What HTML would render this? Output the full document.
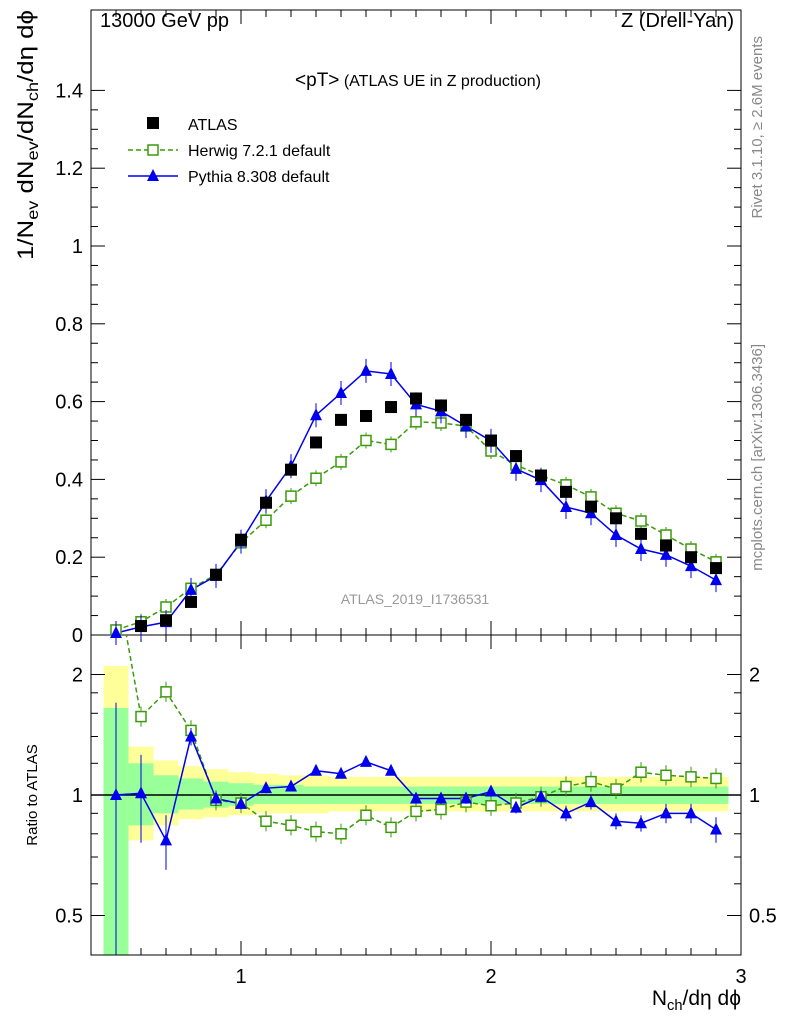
<!DOCTYPE html>
<html><head><meta charset="utf-8"><style>
body{margin:0;background:#fff}
svg{display:block;font-family:"Liberation Sans",sans-serif}
</style></head><body>
<svg id="c" width="786" height="1024" viewBox="0 0 786 1024"></svg>
<script>
const xs=[0.5,0.6,0.7,0.8,0.9,1.0,1.1,1.2,1.3,1.4,1.5,1.6,1.7,1.8,1.9,2.0,2.1,2.2,2.3,2.4,2.5,2.6,2.7,2.8,2.9];
const atlas=[0.01,0.023,0.038,0.085,0.155,0.245,0.34,0.425,0.495,0.553,0.563,0.586,0.608,0.59,0.553,0.50,0.46,0.41,0.368,0.33,0.30,0.26,0.23,0.20,0.172];
const herwig=[0.013,0.034,0.072,0.12,0.155,0.237,0.295,0.357,0.403,0.445,0.50,0.49,0.548,0.545,0.537,0.473,0.437,0.41,0.386,0.355,0.313,0.293,0.257,0.221,0.188];
const pythia=[0.005,0.021,0.033,0.116,0.152,0.24,0.344,0.434,0.565,0.622,0.679,0.671,0.593,0.575,0.537,0.499,0.427,0.398,0.329,0.313,0.257,0.221,0.206,0.177,0.141];
const herwigRatio=[3.5,1.57,1.81,1.45,0.97,0.955,0.86,0.84,0.81,0.80,0.89,0.83,0.91,0.92,0.96,0.94,0.955,0.99,1.05,1.08,1.035,1.14,1.12,1.11,1.10];
const pythiaRatio=[1.0,1.01,0.77,1.40,0.98,0.95,1.04,1.05,1.15,1.13,1.21,1.15,0.98,0.98,0.98,1.02,0.93,0.99,0.90,0.96,0.86,0.85,0.90,0.90,0.82];
const pythiaRatioErr=[0.7,0.25,0.12,0.07,0.04,0.03,0.03,0.03,0.03,0.03,0.03,0.03,0.03,0.03,0.03,0.03,0.03,0.03,0.04,0.04,0.04,0.04,0.05,0.05,0.06];
const greenLo=[0.37,0.84,0.9,0.92,0.93,0.94,0.95,0.95,0.95,0.95,0.95,0.95,0.95,0.95,0.95,0.95,0.95,0.95,0.95,0.95,0.95,0.95,0.95,0.95,0.95];
const greenHi=[1.65,1.2,1.12,1.1,1.08,1.07,1.06,1.06,1.05,1.05,1.05,1.05,1.05,1.05,1.05,1.05,1.05,1.05,1.05,1.05,1.05,1.05,1.05,1.05,1.05];
const yelLo=[0.35,0.77,0.84,0.87,0.88,0.89,0.9,0.9,0.9,0.91,0.91,0.91,0.91,0.91,0.91,0.91,0.91,0.91,0.91,0.91,0.91,0.91,0.91,0.91,0.91];
const yelHi=[2.1,1.32,1.22,1.18,1.16,1.14,1.13,1.12,1.12,1.11,1.11,1.11,1.11,1.11,1.11,1.11,1.11,1.11,1.11,1.11,1.11,1.11,1.11,1.11,1.11];
const yTicksTop=[0,0.2,0.4,0.6,0.8,1,1.2,1.4];
const yTickLabelsTop=["0","0.2","0.4","0.6","0.8","1","1.2","1.4"];
const xTicks=[1,2,3];
const rTicks=[0.5,1,2];

const svg=document.getElementById('c');const NS='http://www.w3.org/2000/svg';
function el(t,a,txt){const e=document.createElementNS(NS,t);for(const k in a)e.setAttribute(k,a[k]);if(txt!==undefined)e.textContent=txt;svg.appendChild(e);return e;}
const L=91,R=741,T1=10,B1=635,T2=635,B2=955;
const X=v=>241+(v-1)*250;
const Y=v=>635-v*389;
const RY=v=>795-Math.log2(v)*120.5;
const cl=(v,a,b)=>Math.max(a,Math.min(b,v));
const cp=el('clipPath',{id:'rc'});const cpr=document.createElementNS(NS,'rect');
cpr.setAttribute('x',L);cpr.setAttribute('y',T2);cpr.setAttribute('width',R-L);cpr.setAttribute('height',B2-T2);cp.appendChild(cpr);
for(let i=0;i<xs.length;i++){
 let r=el('rect',{x:X(xs[i]-0.05),width:250*0.1,y:cl(RY(yelHi[i]),T2,B2),height:cl(RY(yelLo[i]),T2,B2)-cl(RY(yelHi[i]),T2,B2),fill:'#ffff99'});
 
 let g=el('rect',{x:X(xs[i]-0.05),width:250*0.1,y:cl(RY(greenHi[i]),T2,B2),height:cl(RY(greenLo[i]),T2,B2)-cl(RY(greenHi[i]),T2,B2),fill:'#99ff99'});
 
}
el('line',{x1:L,x2:R,y1:RY(1),y2:RY(1),stroke:'#000','stroke-width':1.5});
let f1=el('rect',{x:L,y:T1,width:R-L,height:B1-T1,fill:'none',stroke:'#000'});
let f2=el('rect',{x:L,y:T2,width:R-L,height:B2-T2,fill:'none',stroke:'#000'});
yTicksTop.forEach((v,i)=>{el('line',{x1:L,x2:L+14,y1:Y(v),y2:Y(v),stroke:'#000'});el('line',{x1:R,x2:R-14,y1:Y(v),y2:Y(v),stroke:'#000'});
 let t=el('text',{x:L-8,y:Y(v)+7,'text-anchor':'end','font-size':20},yTickLabelsTop[i]);
 if(i<yTicksTop.length-1)for(let k=1;k<4;k++){const m=Y(v+0.05*k);el('line',{x1:L,x2:L+7,y1:m,y2:m,stroke:'#000'});el('line',{x1:R,x2:R-7,y1:m,y2:m,stroke:'#000'});}
});
for(let v=0.4;v<=3.001;v+=0.1){const big=Math.abs(v-Math.round(v))<1e-6;const len=big?14:7;
 [[B1,-1],[T1,1],[B2,-1],[T2,1]].forEach(([y,d])=>el('line',{x1:X(v),x2:X(v),y1:y,y2:y+d*len,stroke:'#000'}));}
xTicks.forEach(v=>{let t=el('text',{x:X(v),y:B2+28,'text-anchor':'middle','font-size':20},String(v));});
rTicks.forEach(v=>{el('line',{x1:L,x2:L+14,y1:RY(v),y2:RY(v),stroke:'#000'});el('line',{x1:R,x2:R-14,y1:RY(v),y2:RY(v),stroke:'#000'});
 let t=el('text',{x:L-8,y:RY(v)+7,'text-anchor':'end','font-size':20},String(v));
 let t2=el('text',{x:R+8,y:RY(v)+7,'font-size':20},String(v));});
[0.6,0.7,0.8,0.9,1.2,1.4,1.6,1.8].forEach(v=>{el('line',{x1:L,x2:L+7,y1:RY(v),y2:RY(v),stroke:'#000'});el('line',{x1:R,x2:R-7,y1:RY(v),y2:RY(v),stroke:'#000'});});
const hc='#3a9a0a',pc='#0000ee';
let hp=el('polyline',{points:xs.map((x,i)=>X(x)+','+Y(herwig[i])).join(' '),fill:'none',stroke:hc,'stroke-width':1.5,'stroke-dasharray':'5,3'});

let pp=el('polyline',{points:xs.map((x,i)=>X(x)+','+Y(pythia[i])).join(' '),fill:'none',stroke:pc,'stroke-width':1.5});

function tri(x,y,c,name){let p=el('polygon',{points:`${x},${y-7} ${x-6},${y+5} ${x+6},${y+5}`,fill:c});}
function sq(x,y,name){let p=el('rect',{x:x-5,y:y-5,width:10,height:10,fill:'#fff',stroke:hc,'stroke-width':1.5});}
xs.forEach((x,i)=>{
 el('line',{x1:X(x),x2:X(x),y1:Y(herwig[i])-8,y2:Y(herwig[i])+8,stroke:hc});sq(X(x),Y(herwig[i]),'herwig-point');
 el('line',{x1:X(x),x2:X(x),y1:Y(pythia[i])-12,y2:Y(pythia[i])+12,stroke:pc});tri(X(x),Y(pythia[i]),pc,'pythia-point');
 if(atlas[i]>0.015){let a=el('rect',{x:X(x)-6,y:Y(atlas[i])-6,width:12,height:12,fill:'#000'});}
});
let hr=el('polyline',{points:xs.map((x,i)=>X(x)+','+RY(herwigRatio[i])).join(' '),fill:'none',stroke:hc,'stroke-width':1.5,'stroke-dasharray':'5,3','clip-path':'url(#rc)'});

let pr=el('polyline',{points:xs.map((x,i)=>X(x)+','+RY(pythiaRatio[i])).join(' '),fill:'none',stroke:pc,'stroke-width':1.5});

xs.forEach((x,i)=>{
 if(herwigRatio[i]<2.3){el('line',{x1:X(x),x2:X(x),y1:RY(herwigRatio[i]*1.06),y2:RY(herwigRatio[i]/1.06),stroke:hc});sq(X(x),RY(herwigRatio[i]),'herwig-ratio-point');}
 el('line',{x1:X(x),x2:X(x),y1:cl(RY(pythiaRatio[i]+pythiaRatioErr[i]),T2,B2),y2:cl(RY(Math.max(0.3,pythiaRatio[i]-pythiaRatioErr[i])),T2,B2),stroke:pc});
 tri(X(x),RY(pythiaRatio[i]),pc,'pythia-ratio-point');
});
function tx(x,y,s,attrs,name){let t=el('text',Object.assign({x:x,y:y},attrs),s);return t;}
function rich(t,parts){parts.forEach(([s,sub])=>{const sp=document.createElementNS(NS,'tspan');sp.textContent=s;if(sub){sp.setAttribute('font-size','70%');sp.setAttribute('dy','5');}else if(t.childNodes.length){sp.setAttribute('dy','-5');}t.appendChild(sp);});}
tx(100,27,'13000 GeV pp',{'font-size':20},'energy-label');
tx(734,27,'Z (Drell-Yan)',{'font-size':20,'text-anchor':'end'},'process-label');
let tt=tx(418,86,'',{'font-size':16,'text-anchor':'middle'},'plot-title');
tt.innerHTML='<tspan font-size="19">&lt;pT&gt;</tspan> (ATLAS UE in Z production)';
let lg=el('rect',{x:147,y:117,width:12,height:12,fill:'#000'});
tx(188,130,'ATLAS',{'font-size':16},'legend-atlas');
el('line',{x1:128,x2:178,y1:150,y2:150,stroke:hc,'stroke-width':1.5,'stroke-dasharray':'5,3'});sq(153,150,'legend-herwig-marker');
tx(188,156,'Herwig 7.2.1 default',{'font-size':16},'legend-herwig');
el('line',{x1:128,x2:178,y1:176,y2:176,stroke:pc,'stroke-width':1.5});tri(153,176,pc,'legend-pythia-marker');
tx(188,182,'Pythia 8.308 default',{'font-size':16},'legend-pythia');
let yt=tx(0,0,'',{'font-size':22,'text-anchor':'end',transform:'translate(33,10) rotate(-90)',textLength:250,lengthAdjust:'spacingAndGlyphs'},'y-axis-title');
rich(yt,[['1/N',0],['ev',1],[' dN',0],['ev',1],['/dN',0],['ch',1],['/d\u03b7 d\u03d5',0]]);
tx(0,0,'Ratio to ATLAS',{'font-size':15,'text-anchor':'middle',transform:'translate(37,795) rotate(-90)'},'ratio-axis-title');
let xt=tx(741,1005,'',{'font-size':21,'text-anchor':'end'},'x-axis-title');
rich(xt,[['N',0],['ch',1],['/d\u03b7 d\u03d5',0]]);
tx(0,0,'Rivet 3.1.10, \u2265 2.6M events',{'font-size':15,'text-anchor':'end',fill:'#888',transform:'translate(762,36) rotate(-90)'},'rivet-label');
tx(0,0,'mcplots.cern.ch [arXiv:1306.3436]',{'font-size':15,'text-anchor':'end',fill:'#888',transform:'translate(762,344) rotate(-90)'},'mcplots-label');
tx(415,604,'ATLAS_2019_I1736531',{'font-size':14,'text-anchor':'middle',fill:'#999'},'analysis-id');
</script>
</body></html>
